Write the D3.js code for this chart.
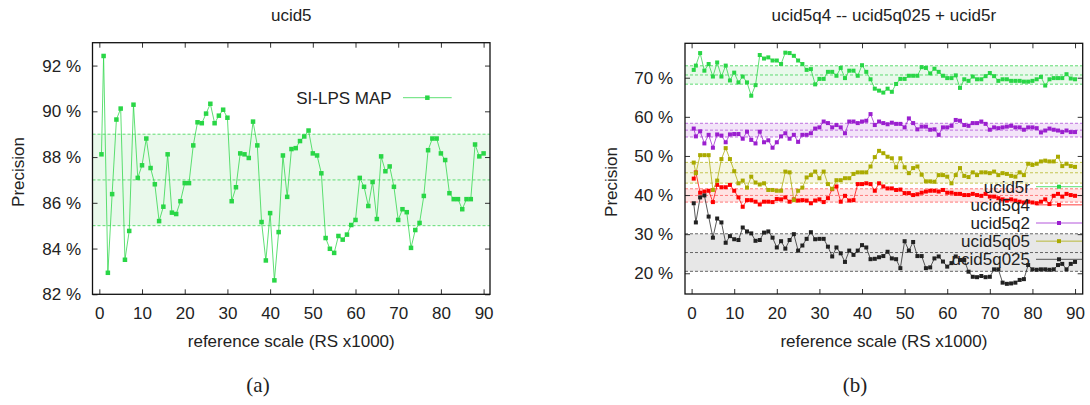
<!DOCTYPE html>
<html><head><meta charset="utf-8">
<script src="https://cdn.jsdelivr.net/npm/d3@7"></script>
<style>
body{margin:0;background:#fff;}
svg text{font-family:"Liberation Sans",Arial,sans-serif;fill:#222;}
</style></head><body>
<svg id="c" width="1090" height="405"></svg>
<script>
// ---------- DATA ----------
const xValues = [0.5,1,2,3,4,5,6,7,8,9,10,11,12,13,14,15,16,17,18,19,20,21,22,23,24,25,26,27,28,29,30,31,32,33,34,35,36,37,38,39,40,41,42,43,44,45,46,47,48,49,50,51,52,53,54,55,56,57,58,59,60,61,62,63,64,65,66,67,68,69,70,71,72,73,74,75,76,77,78,79,80,81,82,83,84,85,86,87,88,89,90];
const xTicks = [0,10,20,30,40,50,60,70,80,90];
const leftYTicks = [82,84,86,88,90,92];
const rightYTicks = [20,30,40,50,60,70];

const siLpsMap = [88.12,92.42,82.94,86.38,89.64,90.12,83.51,84.77,90.29,87.09,87.64,88.81,87.52,86.81,85.20,85.83,88.12,85.57,85.51,86.07,86.86,86.86,88.51,89.52,89.48,89.90,90.33,89.48,89.81,90.07,89.72,86.07,86.68,88.16,88.12,87.96,89.55,88.51,85.16,83.48,85.55,82.61,84.72,88.07,86.26,88.35,88.39,88.70,88.90,89.16,88.16,88.07,87.29,84.46,83.99,83.81,84.55,84.39,84.61,85.03,85.25,87.09,86.70,85.86,86.91,85.29,88.03,87.38,87.59,86.70,85.25,85.72,85.59,84.03,84.81,85.12,86.30,88.30,88.81,88.81,88.16,87.87,86.42,86.16,86.16,85.72,86.16,86.16,88.55,88.03,88.16];

const ucid5r = [72.0,73.1,76.3,71.8,73.5,70.3,73.9,70.3,73.1,69.3,71.3,68.8,70.3,68.8,65.4,68.1,75.8,74.9,75.2,74.4,74.4,73.5,76.4,76.3,75.6,74.4,73.5,72.0,72.2,68.3,69.7,69.7,71.5,71.5,70.5,72.5,69.9,71.8,71.8,70.5,73.2,71.5,69.6,67.2,66.7,66.2,67.2,66.4,68.4,69.7,69.7,70.5,70.5,70.5,72.7,72.5,71.1,72.3,71.5,70.5,69.9,69.9,70.6,67.4,69.6,69.2,70.3,69.6,69.6,70.4,71.2,70.4,69.2,69.6,69.6,69.2,69.2,69.2,69.0,69.0,69.2,69.6,70.2,68.0,69.6,69.9,69.9,69.9,70.9,69.8,69.6];
const ucid5q4 = [44.2,45.8,40.6,40.9,41.1,38.2,42.6,42.0,42.0,42.6,41.1,39.4,37.0,38.7,38.7,38.3,37.6,38.3,38.3,38.2,39.0,38.9,39.4,38.3,38.9,38.6,38.7,38.6,37.9,38.6,38.9,38.2,39.2,41.5,42.2,38.3,39.8,38.6,38.7,42.8,42.8,43.0,42.8,41.1,43.0,42.2,41.7,41.7,41.3,41.4,40.5,40.5,40.0,40.2,40.6,40.9,41.1,41.1,40.9,41.3,40.6,40.6,40.3,40.3,40.0,40.0,40.3,40.0,39.8,40.3,39.6,39.6,39.2,38.9,38.6,38.9,38.6,38.3,38.1,38.3,38.1,37.9,38.3,38.9,37.7,39.8,40.3,39.6,40.3,40.0,39.8];
const ucid5q2 = [57.0,55.0,56.3,53.2,55.4,52.1,55.5,55.2,53.5,55.5,55.6,55.6,54.4,56.2,54.1,53.2,56.2,53.5,54.0,52.1,53.5,55.0,55.8,54.4,55.4,53.6,55.4,55.4,55.8,57.0,57.3,58.8,58.4,57.3,57.9,57.3,55.8,58.8,58.8,58.4,58.8,59.0,60.7,57.9,58.8,58.4,58.1,58.5,58.2,58.2,57.3,59.6,58.4,56.8,57.5,57.5,56.7,56.8,55.4,57.3,57.3,57.7,59.2,59.0,57.9,57.7,58.4,58.4,58.8,58.2,56.7,57.3,57.1,57.3,57.5,57.7,57.3,57.3,56.7,57.3,57.3,57.1,56.0,56.5,57.0,56.7,56.5,56.1,56.5,56.1,56.1];
const ucid5q05 = [48.3,45.6,50.2,50.2,50.2,41.3,43.7,49.2,52.0,49.2,46.1,43.0,43.7,41.9,44.7,43.2,42.7,43.0,41.3,41.3,41.1,41.1,46.0,45.8,38.7,41.1,41.9,44.5,45.1,46.0,44.3,46.0,42.8,41.6,43.8,43.8,44.3,44.3,45.4,45.8,45.8,45.8,47.3,49.7,51.3,50.7,49.8,49.4,47.1,49.4,47.1,45.6,46.9,47.3,45.2,43.5,43.5,43.4,45.1,45.1,44.7,43.0,45.1,46.9,44.9,44.6,45.8,45.1,45.8,45.8,45.6,46.0,45.1,45.6,45.4,44.9,44.7,45.8,45.1,48.0,47.7,48.0,48.6,48.8,48.6,48.6,49.8,47.4,48.0,47.4,47.2];
const ucid5q025 = [37.9,33.0,39.4,39.9,34.5,29.1,34.0,33.0,27.8,29.5,28.7,28.5,31.7,30.7,30.2,28.3,28.5,30.4,30.7,29.1,26.6,28.2,26.3,28.5,30.0,25.8,27.1,28.8,30.5,28.7,28.8,28.8,26.8,24.3,26.6,25.1,22.9,25.8,24.7,25.8,27.2,26.6,23.6,23.7,24.1,24.4,25.5,23.8,23.6,21.3,28.2,25.8,28.0,24.4,24.4,21.3,21.5,23.8,24.3,23.0,21.7,22.6,24.3,23.4,23.4,20.4,19.1,19.0,19.3,19.0,19.1,21.0,21.0,17.6,17.3,17.4,17.6,18.3,18.5,22.1,21.0,20.9,21.0,21.0,20.9,21.0,22.1,22.4,21.0,22.4,22.9];

const seriesNames = ["ucid5r","ucid5q4","ucid5q2","ucid5q05","ucid5q025"];
const seriesValues = [ucid5r, ucid5q4, ucid5q2, ucid5q05, ucid5q025];
const bandMeans = [70.7, 39.9, 56.6, 45.7, 25.3];
const bandDevs  = [2.35, 1.7, 1.75, 2.65, 4.8];
const leftBandMean = 87.0, leftBandDev = 2.0;

// ---------- STYLE ----------
const colors   = ["#29d646","#ff0000","#9b1fcf","#aaaa00","#222222"];
const bandFill = ["#e9f9eb","#ffe3e3","#f3e4f9","#f6f6e2","#e7e7e7"];
const bandLine = ["#5fdc72","#ff7a7a","#bf6fe0","#c4c450","#666666"];
const FONT = 17;

const svg = d3.select("#c");

function panel(o){
  const g = svg.append("g");
  const x = d3.scaleLinear().domain(o.xdom).range([o.x0,o.x1]);
  const y = d3.scaleLinear().domain(o.ydom).range([o.y1,o.y0]);
  // bands
  o.bands.forEach(b=>{
    g.append("rect").attr("x",o.x0).attr("width",o.x1-o.x0)
      .attr("y",y(b.m+b.d)).attr("height",y(b.m-b.d)-y(b.m+b.d)).attr("fill",b.fill);
  });
  o.bands.forEach(b=>{
    [b.m+b.d,b.m,b.m-b.d].forEach(v=>{
      g.append("line").attr("x1",o.x0).attr("x2",o.x1).attr("y1",y(v)).attr("y2",y(v))
        .attr("stroke",b.line).attr("stroke-width",1).attr("stroke-dasharray","3,2");
    });
  });
  // axes (inward ticks, mirrored)
  const ax = g.append("g").attr("transform",`translate(0,${o.y1})`)
    .call(d3.axisBottom(x).tickValues(xTicks).tickSize(-5).tickPadding(13));
  const axt = g.append("g").attr("transform",`translate(0,${o.y0})`)
    .call(d3.axisTop(x).tickValues(xTicks).tickSize(-5).tickFormat(""));
  const ay = g.append("g").attr("transform",`translate(${o.x0},0)`)
    .call(d3.axisLeft(y).tickValues(o.yticks).tickSize(-5).tickPadding(o.ypad).tickFormat(d=>d+" %"));
  const ayr = g.append("g").attr("transform",`translate(${o.x1},0)`)
    .call(d3.axisRight(y).tickValues(o.yticks).tickSize(-5).tickFormat(""));
  [ax,axt,ay,ayr].forEach(a=>{
    a.select(".domain").remove();
    a.selectAll(".tick line").attr("stroke","#333").attr("stroke-width",1);
    a.selectAll("text").attr("font-size",FONT).attr("font-family","Liberation Sans, Arial, sans-serif").attr("fill","#222");
  });
  // series
  o.series.forEach(s=>{
    const pts = xValues.map((xv,i)=>[xv,s.values[i]]);
    g.append("path").attr("d",d3.line().x(d=>x(d[0])).y(d=>y(d[1]))(pts))
      .attr("fill","none").attr("stroke",s.color).attr("stroke-width",1).attr("stroke-opacity",0.75);
    g.selectAll(null).data(pts).enter().append("rect")
      .attr("x",d=>x(d[0])-o.ms/2).attr("y",d=>y(d[1])-o.ms/2)
      .attr("width",o.ms).attr("height",o.ms).attr("fill",s.color);
  });
  // frame
  g.append("rect").attr("x",o.x0).attr("y",o.y0).attr("width",o.x1-o.x0).attr("height",o.y1-o.y0)
    .attr("fill","none").attr("stroke","#111").attr("stroke-width",1.3);
  // texts
  const cx = (o.x0+o.x1)/2;
  g.append("text").attr("x",cx).attr("y",21).attr("text-anchor","middle").attr("font-size",FONT).text(o.title);
  g.append("text").attr("x",cx).attr("y",347).attr("text-anchor","middle").attr("font-size",FONT).text("reference scale (RS x1000)");
  g.append("text").attr("transform",`translate(${o.ylabX},${o.ylabY}) rotate(-90)`)
    .attr("text-anchor","middle").attr("dy","0.35em").attr("font-size",FONT).text("Precision");
  g.append("text").attr("x",o.capX).attr("y",392).attr("text-anchor","middle")
    .attr("style","font-family:'Liberation Serif',serif;fill:#222")
    .attr("font-size",21).text(o.caption);
  // legend
  o.legend.forEach((l,i)=>{
    const ly = o.legY + i*o.legStep;
    g.append("text").attr("x",o.legTextX).attr("y",ly).attr("dy","0.36em").attr("text-anchor","end")
      .attr("font-size",FONT).text(l.name);
    g.append("line").attr("x1",o.legL0).attr("x2",o.legL1).attr("y1",ly).attr("y2",ly)
      .attr("stroke",l.color).attr("stroke-width",1).attr("stroke-opacity",0.75);
    g.append("rect").attr("x",(o.legL0+o.legL1)/2-o.ms/2).attr("y",ly-o.ms/2)
      .attr("width",o.ms).attr("height",o.ms).attr("fill",l.color);
  });
}

panel({
  x0:92.5, x1:490, y0:42.7, y1:294.3, xdom:[-1.6,91.5], ydom:[82,93],
  yticks:leftYTicks, ypad:11.5, ms:4.5,
  bands:[{m:leftBandMean,d:leftBandDev,fill:bandFill[0],line:bandLine[0]}],
  series:[{values:siLpsMap,color:colors[0]}],
  title:"ucid5", ylabX:18, ylabY:172, capX:258, caption:"(a)",
  legend:[{name:"SI-LPS MAP",color:colors[0]}],
  legY:97.7, legStep:18, legTextX:391.7, legL0:403, legL1:451.7
});

panel({
  x0:685, x1:1082.7, y0:43.3, y1:294, xdom:[-1.55,91.8], ydom:[14.7,78.8],
  yticks:rightYTicks, ypad:12, ms:4,
  bands:bandMeans.map((m,i)=>({m:m,d:bandDevs[i],fill:bandFill[i],line:bandLine[i]})),
  series:seriesValues.map((v,i)=>({values:v,color:colors[i]})),
  title:"ucid5q4 -- ucid5q025 + ucid5r", ylabX:611, ylabY:182, capX:855, caption:"(b)",
  legend:seriesNames.map((n,i)=>({name:n,color:colors[i]})),
  legY:186.7, legStep:18.15, legTextX:1030, legL0:1036, legL1:1082
});
</script>
</body></html>
